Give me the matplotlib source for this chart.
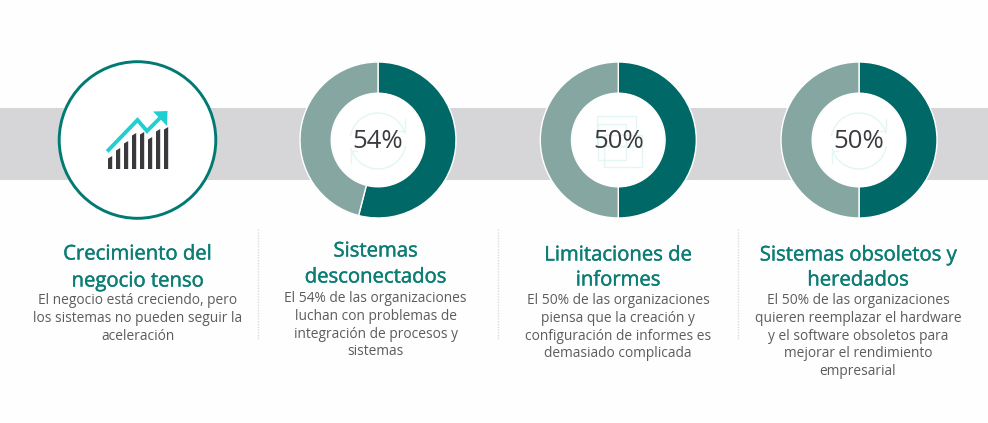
import matplotlib
matplotlib.use("Agg")
import matplotlib.pyplot as plt
import matplotlib.patheffects as pe
from matplotlib.patches import Circle, Rectangle, Arc, Polygon

W, H = 988, 423
plt.rcParams['font.family'] = ['Open Sans', 'DejaVu Sans']

# ---- data ----
percentages = [54, 50, 50]
percent_labels = ['54%', '50%', '50%']
titles = [
    ['Crecimiento del', 'negocio tenso'],
    ['Sistemas', 'desconectados'],
    ['Limitaciones de', 'informes'],
    ['Sistemas obsoletos y', 'heredados'],
]
bodies = [
    ['El negocio está creciendo, pero', 'los sistemas no pueden seguir la', 'aceleración'],
    ['El 54% de las organizaciones', 'luchan con problemas de', 'integración de procesos y', 'sistemas'],
    ['El 50% de las organizaciones', 'piensa que la creación y', 'configuración de informes es', 'demasiado complicada'],
    ['El 50% de las organizaciones', 'quieren reemplazar el hardware', 'y el software obsoletos para', 'mejorar el rendimiento', 'empresarial'],
]
icon_bar_heights = [13, 21, 28, 36, 37, 32, 40, 42]

# ---- layout and style ----
DARK, LIGHT = '#006866', '#86a6a2'
TEAL = '#0b7d74'
BODY = '#5c5c60'
PALE = '#e3f6f4'
col_x = [137.5, 375.5, 618, 858]
title_y = [[254.5, 281.5], [251.5, 277.5], [255.5, 280.5], [255.5, 280.5]]
body_y0 = [301, 299, 301, 301]
body_step = 17.6
donut_x = [378, 618.3, 859]
cy, R = 140, 78
pad = 1.02

fig = plt.figure(figsize=(W / 100, H / 100), dpi=100, facecolor='#fefefe')
bg = fig.add_axes([0, 0, 1, 1])
bg.set_xlim(0, W)
bg.set_ylim(H, 0)
bg.axis('off')

bg.add_patch(Rectangle((0, 108), W, 72.5, fc='#d6d6d8', ec='none', zorder=1))
bg.add_patch(Circle((137.5, 140), 78.3, fc='white', ec='#007a72', lw=2.1, zorder=2))

# chart icon
for i, h in enumerate(icon_bar_heights):
    x = 108 + i * 8
    bg.add_patch(Polygon([(x, 169), (x + 4.2, 169), (x + 4.2, 169 - h), (x, 169 - h + 2.5)],
                         fc='#3a3a3e', ec='none', zorder=3))
bg.plot([108.5, 137.5, 147, 161], [150, 120, 131, 117], color='#22cfd0', lw=2.8,
        solid_joinstyle='miter', zorder=4)
bg.add_patch(Polygon([(153, 111.5), (167.5, 111), (167, 126)], fc='#22cfd0', ec='none', zorder=4))

# donuts
for cx, p in zip(donut_x, percentages):
    d = R * pad * 2
    ax = fig.add_axes([(cx - d / 2) / W, 1 - (cy + d / 2) / H, d / W, d / H])
    ax.pie([p, 100 - p], colors=[DARK, LIGHT], startangle=90, counterclock=False, radius=1,
           wedgeprops=dict(width=0.40, edgecolor='white', linewidth=1.0))
    ax.set_xlim(-pad, pad)
    ax.set_ylim(-pad, pad)
    ax.patch.set_visible(False)

# overlay for centres, pale icons and numbers
fg = fig.add_axes([0, 0, 1, 1])
fg.set_xlim(0, W)
fg.set_ylim(H, 0)
fg.axis('off')
for cx in donut_x:
    fg.add_patch(Circle((cx, cy), 46.3, fc='white', ec='none', zorder=1))
for cx in (donut_x[0], donut_x[2]):
    fg.add_patch(Arc((cx, 141), 56, 56, theta1=190, theta2=345, color=PALE, lw=1, zorder=2))
    fg.add_patch(Arc((cx, 141), 56, 56, theta1=10, theta2=165, color=PALE, lw=1, zorder=2))
    fg.plot([cx + 21, cx + 27, cx + 27], [131, 131, 119], color=PALE, lw=1, zorder=2)
    fg.plot([cx - 27, cx - 27, cx - 21], [163, 151, 151], color=PALE, lw=1, zorder=2)
for rx, ry, rw, rh in [(597, 116, 39, 30), (598, 124, 28, 36), (604, 135, 38, 32)]:
    fg.add_patch(Rectangle((rx, ry), rw, rh, fc='none', ec=PALE, lw=1, zorder=2))

for cx, s in zip(donut_x, percent_labels):
    fg.text(cx, 141.5, s, ha='center', va='center', fontsize=18.5, color='#3c3c40', zorder=3)

# separators
for x in [257.7, 497.7, 738]:
    fg.plot([x, x], [229, 339], color='#dcdcdc', lw=1, ls=(0, (1, 1)))

# text columns
stroke = [pe.withStroke(linewidth=0.3, foreground=TEAL)]
for x, t, ty, b, y0 in zip(col_x, titles, title_y, bodies, body_y0):
    for line, y in zip(t, ty):
        fg.text(x, y, line, ha='center', va='center', fontsize=14.6, color=TEAL, path_effects=stroke)
    for i, line in enumerate(b):
        fg.text(x, y0 + i * body_step, line, ha='center', va='center', fontsize=9.9, color=BODY)

fig.savefig('out.png', dpi=100, facecolor=fig.get_facecolor())
